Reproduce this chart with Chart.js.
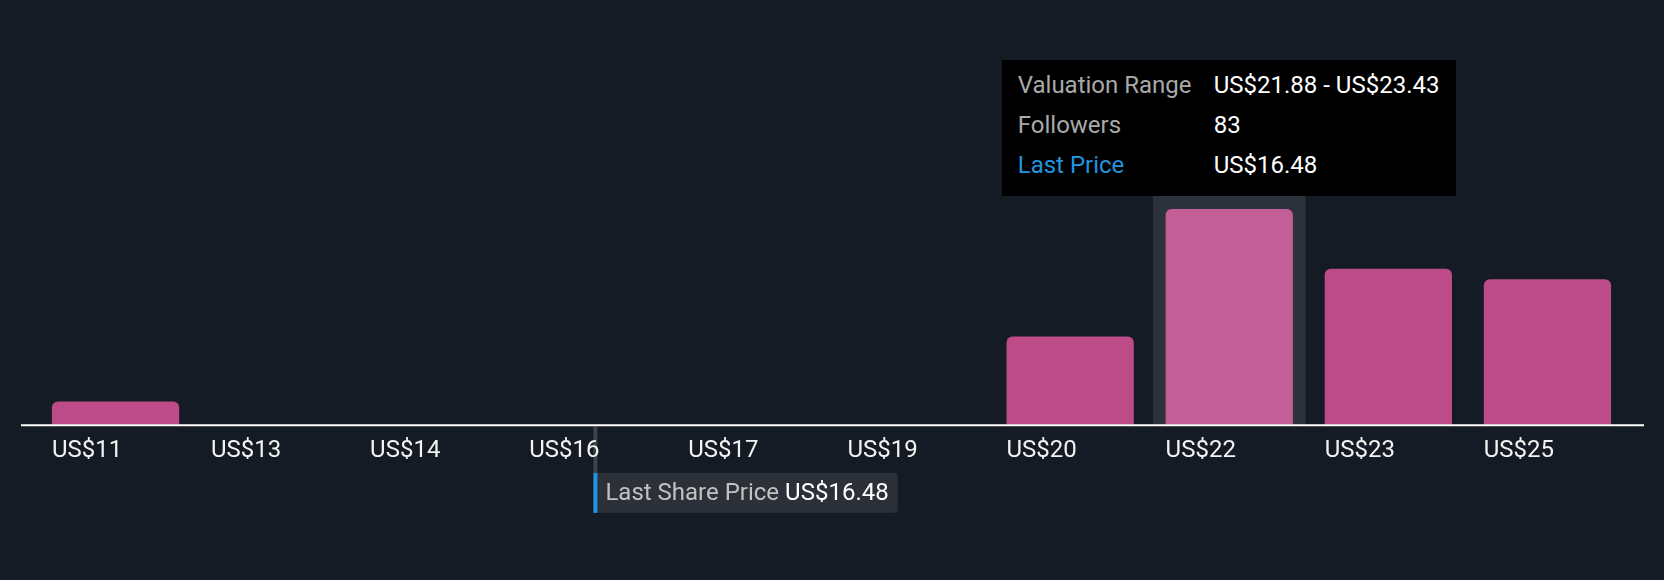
<!DOCTYPE html>
<html lang="en">
<head>
<meta charset="UTF-8">
<title>Valuation Range - Followers</title>
<script src="https://cdn.jsdelivr.net/npm/chart.js"></script>
<style>
  body { margin: 0; background: #151b24; font-family: Roboto, sans-serif; }
  #wrap { position: relative; width: 1664px; height: 580px; }
  #tooltip { position: absolute; display: none; background: #000; color: #fff; font-size: 24px;
             padding: 5px 17px 11px 16px; white-space: nowrap; pointer-events: none; }
  #tooltip table { border-collapse: collapse; }
  #tooltip td { padding: 0; line-height: 40px; }
  #tooltip td.lbl { color: #a9a9a9; width: 196px; }
  #tooltip tr.price td.lbl { color: #2394df; }
</style>
</head>
<body>
<div id="wrap">
  <canvas id="myChart" width="1664" height="580"></canvas>
  <div id="tooltip"></div>
</div>

<script>
// tick labels of the bins
const binLabels = ['US$11', 'US$13', 'US$14', 'US$16', 'US$17', 'US$19', 'US$20', 'US$22', 'US$23', 'US$25'];
// number of followers in each bin
const followers = [9, 0, 0, 0, 0, 0, 34, 83, 60, 56];
// valuation range of each bin (US$)
const rangeLow  = [11.03, 12.58, 14.13, 15.68, 17.23, 18.78, 20.33, 21.88, 23.43, 24.98];
const rangeHigh = [12.58, 14.13, 15.68, 17.23, 18.78, 20.33, 21.88, 23.43, 24.98, 26.53];
const lastPrice = 16.48;
const activeBin = 7;

const padLeft = 36, padRight = 37;
const catWidth = (1664 - padLeft - padRight) / binLabels.length;

function money(v) {
  return 'US$' + v.toFixed(2);
}

// tooltip em html, fixo em cima da barra ativa
function tooltipExterno(context) {
  const tt = context.tooltip;
  const el = document.getElementById('tooltip');
  if (tt.opacity === 0 || !tt.dataPoints || !tt.dataPoints.length) {
    el.style.display = 'none';
    return;
  }
  const i = tt.dataPoints[0].dataIndex;
  el.innerHTML =
    '<table>' +
    '<tr><td class="lbl">Valuation Range</td><td>' + money(rangeLow[i]) + ' - ' + money(rangeHigh[i]) + '</td></tr>' +
    '<tr><td class="lbl">Followers</td><td>' + followers[i] + '</td></tr>' +
    '<tr class="price"><td class="lbl">Last Price</td><td>' + money(lastPrice) + '</td></tr>' +
    '</table>';
  el.style.display = 'block';
  const area = context.chart.chartArea;
  el.style.left = (tt.caretX - el.offsetWidth / 2) + 'px';
  el.style.top = (area.top - el.offsetHeight) + 'px';
}

// linha cinza do ultimo preco, desenhada antes dos ticks
const linhaPreco = {
  id: 'linhaPreco',
  beforeDraw(chart) {
    const ctx = chart.ctx;
    const area = chart.chartArea;
    const px = chart.scales.x2.getPixelForValue(lastPrice);
    ctx.save();
    ctx.fillStyle = '#3e424b';
    ctx.fillRect(px - 2, area.bottom + 2, 4, 46);
    ctx.restore();
  }
};

// coluna cinza atras da barra ativa
const colunaAtiva = {
  id: 'colunaAtiva',
  beforeDatasetsDraw(chart) {
    const act = chart.getActiveElements();
    if (!act.length) return;
    const ctx = chart.ctx;
    const area = chart.chartArea;
    const xc = chart.scales.x.getPixelForValue(act[0].index);
    const w = catWidth * 0.96;
    ctx.save();
    ctx.fillStyle = '#2d313b';
    ctx.fillRect(xc - w / 2, area.top, w, area.bottom - area.top);
    ctx.restore();
  }
};

// linha do eixo x e caixa do ultimo preco
const eixoEPreco = {
  id: 'eixoEPreco',
  afterDatasetsDraw(chart) {
    const ctx = chart.ctx;
    const area = chart.chartArea;
    const yAxis = area.bottom + 0.5;
    ctx.save();
    ctx.strokeStyle = '#ffffff';
    ctx.lineWidth = 2;
    ctx.beginPath();
    ctx.moveTo(area.left - 15, yAxis);
    ctx.lineTo(area.right + 17, yAxis);
    ctx.stroke();

    const px = chart.scales.x2.getPixelForValue(lastPrice);
    const boxTop = area.bottom + 48;
    const boxH = 40;

    ctx.font = '24px Roboto, sans-serif';
    const t1 = 'Last Share Price';
    const t2 = money(lastPrice);
    const w1 = ctx.measureText(t1).width;
    const w2 = ctx.measureText(t2).width;
    const boxW = 4 + 8 + w1 + 6 + w2 + 9;
    ctx.fillStyle = '#2c3039';
    ctx.beginPath();
    ctx.roundRect(px - 2, boxTop, boxW, boxH, [0, 4, 4, 0]);
    ctx.fill();
    ctx.fillStyle = '#2394df';
    ctx.fillRect(px - 2, boxTop, 4, boxH);

    ctx.textBaseline = 'alphabetic';
    ctx.textAlign = 'left';
    ctx.fillStyle = '#c2c2c2';
    ctx.fillText(t1, px + 10, boxTop + 27);
    ctx.fillStyle = '#ffffff';
    ctx.fillText(t2, px + 10 + w1 + 6, boxTop + 27);
    ctx.restore();
  }
};

const dados = {
  labels: binLabels,
  datasets: [{
    label: 'Followers',
    data: followers,
    backgroundColor: '#bc4b87',
    hoverBackgroundColor: '#c45e96',
    borderWidth: 0,
    borderRadius: 6,
    barPercentage: 0.8,
    categoryPercentage: 1.0
  }]
};

const config = {
  type: 'bar',
  data: dados,
  options: {
    responsive: false,
    animation: false,
    events: [],
    layout: { padding: { top: 196, left: padLeft, right: padRight, bottom: 102.4 } },
    plugins: {
      legend: { display: false },
      tooltip: { enabled: false, external: tooltipExterno }
    },
    scales: {
      x: {
        grid: { display: false, drawTicks: false },
        border: { display: false },
        ticks: {
          color: '#f2f2f2',
          font: { family: 'Roboto', size: 24 },
          padding: 12,
          align: 'start',
          labelOffset: -catWidth * 0.4,
          autoSkip: false,
          maxRotation: 0
        }
      },
      x2: {
        type: 'linear',
        axis: 'x',
        display: false,
        offset: false,
        min: rangeLow[0],
        max: rangeHigh[rangeHigh.length - 1]
      },
      y: {
        display: false,
        min: 0,
        max: 88
      }
    }
  },
  plugins: [linhaPreco, colunaAtiva, eixoEPreco]
};

let myChart = new Chart(document.getElementById('myChart'), config);

// deixa a barra do intervalo US$22 ativa, como na imagem
const ativo = [{ datasetIndex: 0, index: activeBin }];
myChart.setActiveElements(ativo);
myChart.tooltip.setActiveElements(ativo, { x: 0, y: 0 });
myChart.update();
</script>
</body>
</html>
